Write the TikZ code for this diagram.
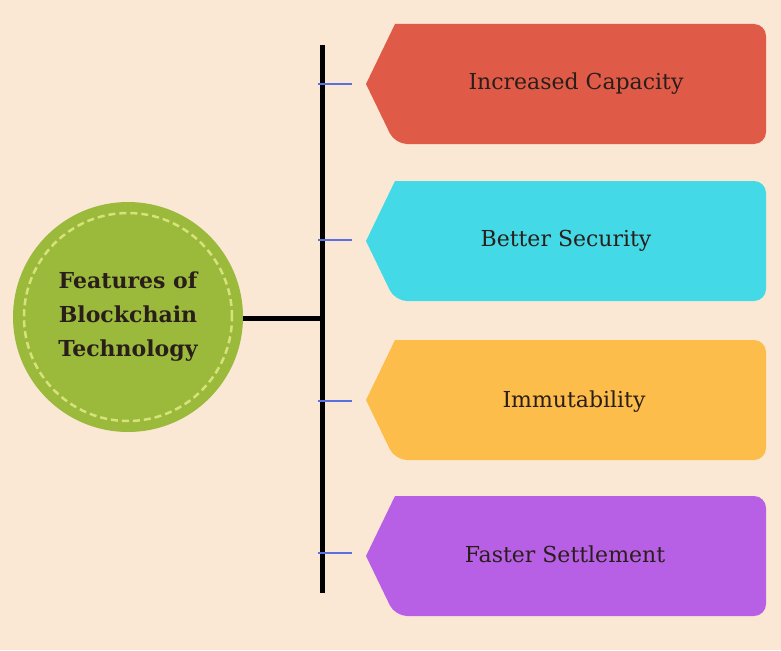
\documentclass[tikz,border=0pt]{standalone}
\usepackage{fontspec}
\setmainfont{DejaVu Serif}
\usetikzlibrary{positioning}
\definecolor{bgc}{HTML}{FAE8D4}
\definecolor{hubc}{HTML}{9BBA3C}
\definecolor{dashc}{HTML}{D6E27A}
\definecolor{tickc}{HTML}{5A6FE0}
\definecolor{capc}{HTML}{DF5B48}
\definecolor{secc}{HTML}{44D9E6}
\definecolor{immc}{HTML}{FDBD4A}
\definecolor{setc}{HTML}{B760E6}
\definecolor{txtc}{HTML}{2A1E1A}
\tikzset{
  label text/.style={font=\fontsize{22}{26}\selectfont, text=txtc},
  tick line/.style={tickc, line width=2.5pt},
  spine/.style={black, line width=5pt},
}
\newcommand{\tagshape}[3]{% color, center y, name
  \fill[#1, rounded corners=12pt] (395,-#2+60) -- (766,-#2+60) -- (766,-#2-60) -- (395,-#2-60) [sharp corners]-- (366,-#2) -- cycle;
  \coordinate (#3 tip) at (366,-#2);
}
\begin{document}
\begin{tikzpicture}[x=1pt, y=1pt]
  \fill[bgc] (0,0) rectangle (781,-650);
  \useasboundingbox (0,0) rectangle (781,-650);

  % hub
  \node[circle, fill=hubc, minimum size=230pt, inner sep=0pt] (hub) at (128,-317) {};
  \draw[dashc, line width=2.5pt, dash pattern=on 7pt off 4pt] (hub.center) circle (104pt);
  \node[font=\fontsize{22}{34}\selectfont\bfseries, text=txtc, align=center] (hubtext) at (hub.center) {Features of\\Blockchain\\Technology};

  % spine
  \coordinate (top) at (322,-45);
  \coordinate (bottom) at (322,-593);
  \coordinate (joint) at (322,-318);
  \draw[spine] (top) -- (bottom);
  \draw[spine] (hub.east |- joint) -- (joint);

  % tags
  \tagshape{capc}{84}{cap}
  \tagshape{secc}{241}{sec}
  \tagshape{immc}{400}{imm}
  \tagshape{setc}{556}{set}
  \node[label text] (capacity) at (576,-84) {Increased Capacity};
  \node[label text] (security) at (566,-241) {Better Security};
  \node[label text] (immut) at (574,-402) {Immutability};
  \node[label text] (settle) at (565,-554) {Faster Settlement};

  % ticks
  \foreach \t/\y in {cap/84, sec/240, imm/401, set/553}
    \draw[tick line] (318,-\y) -- (352,-\y);
\end{tikzpicture}
\end{document}
